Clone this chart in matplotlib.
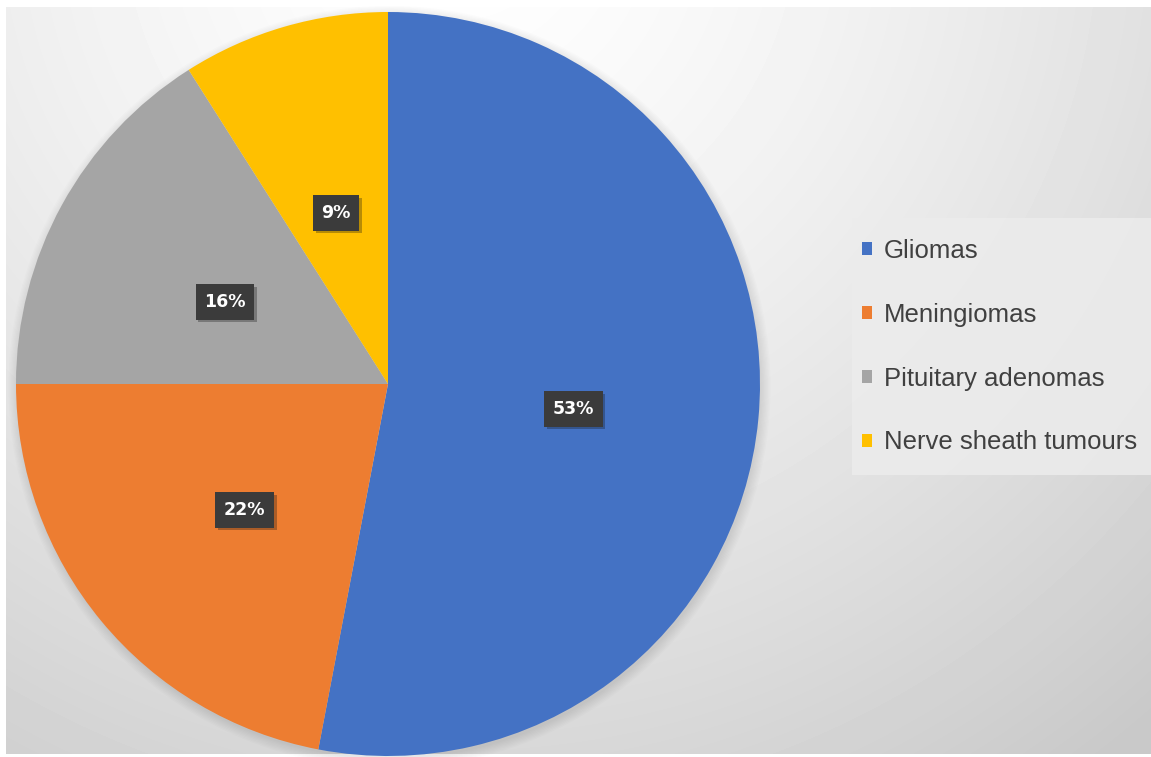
import numpy as np
import matplotlib.pyplot as plt
from matplotlib.patches import Circle, Patch, Rectangle
import matplotlib.patheffects as pe

labels = ['Gliomas', 'Meningiomas', 'Pituitary adenomas', 'Nerve sheath tumours']
values = [53, 22, 16, 9]
colors = ['#4472C4', '#ED7D31', '#A5A5A5', '#FFC000']

W, H = 1151, 757
fig = plt.figure(figsize=(W / 100, H / 100), dpi=100)
fig.patch.set_facecolor('white')

# background: soft radial gradient, white near the top, grey to the lower right
bg = fig.add_axes([6 / W, 3 / H, 1145 / W, 747 / H])
yy, xx = np.mgrid[7:754, 6:1151]
d = np.hypot(xx - 460, yy + 80) / 1050.0
shade = 255 - 54 * np.clip(d, 0, 1) ** 1.4
bg.imshow(shade, cmap='gray', vmin=0, vmax=255, aspect='auto', interpolation='bilinear')
bg.set_axis_off()

# legend background panel
fig.add_artist(Rectangle((852 / W, 1 - 475 / H), (W - 852) / W, 257 / H,
                         transform=fig.transFigure, facecolor='#ececec',
                         edgecolor='none', alpha=0.85, zorder=1))

# pie
ax = fig.add_axes([16 / W, 1 / H, 744 / W, 744 / H])
for i in range(8):
    ax.add_patch(Circle((0.004, -0.008), 1 + 0.0035 * i, color='black', alpha=0.012,
                        lw=0, clip_on=False, zorder=0))

wedges, texts, autotexts = ax.pie(values, colors=colors, startangle=90, counterclock=False,
                                  autopct=lambda p: f'{p:.0f}%', pctdistance=0.5,
                                  wedgeprops=dict(linewidth=0))
for w in wedges:
    w.set_zorder(1)
for t in autotexts:
    t.set_color('white')
    t.set_fontsize(12.5)
    t.set_fontweight('bold')
    t.set_zorder(3)
    t.set_y(t.get_position()[1] - 0.02)
    t.set_bbox(dict(boxstyle='square,pad=0.5', facecolor='#3b3b3b', edgecolor='none'))
    t.get_bbox_patch().set_path_effects(
        [pe.SimplePatchShadow(offset=(2, -2), alpha=0.3), pe.Normal()])
ax.set_xlim(-1, 1)
ax.set_ylim(-1, 1)
ax.set_aspect('equal')
ax.set_axis_off()

# legend
handles = [Patch(facecolor=c, edgecolor='none') for c in colors]
leg = fig.legend(handles, labels, loc='upper left', bbox_to_anchor=(862 / W, 1 - 239 / H),
                 frameon=False, prop={'family': 'Liberation Sans', 'size': 18.5},
                 labelcolor='#404040', handlelength=0.39, handleheight=0.39,
                 handletextpad=0.47, labelspacing=1.55, borderpad=0, borderaxespad=0)
leg.set_zorder(2)

fig.savefig('out.png', dpi=100)
